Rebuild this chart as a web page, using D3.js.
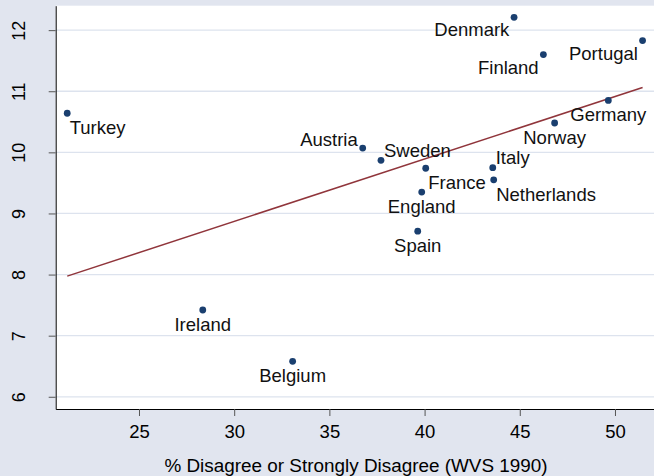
<!DOCTYPE html>
<html>
<head>
<meta charset="utf-8">
<script src="https://cdn.jsdelivr.net/npm/d3@7"></script>
<style>
  body { margin: 0; background: #e1e5ef; }
  svg { display: block; font-family: "Liberation Sans", Arial, Helvetica, sans-serif; }
</style>
</head>
<body>
<script>
"use strict";

/* Data */
var countries = ["Turkey", "Ireland", "Belgium", "Austria", "Sweden", "Spain", "England",
	"France", "Italy", "Netherlands", "Denmark", "Finland", "Norway", "Germany", "Portugal"];
var pctDisagree = [21.23, 28.35, 33.07, 36.75, 37.71, 39.64, 39.85,
	40.06, 43.58, 43.63, 44.70, 46.24, 46.83, 49.65, 51.45];
var yValue = [10.64, 7.42, 6.58, 10.07, 9.87, 8.71, 9.35,
	9.74, 9.75, 9.55, 12.21, 11.60, 10.48, 10.85, 11.83];
var labelClock = [4, 6, 6, 10, 2, 6, 6, 4, 2, 4, 7, 7, 6, 6, 7];	// stata style mlabpos
var xTicks = [25, 30, 35, 40, 45, 50];
var yTicks = [6, 7, 8, 9, 10, 11, 12];
var xTitle = "% Disagree or Strongly Disagree (WVS 1990)";

var width = 654, height = 476;
var navy = "#1a3f6f", maroon = "#90353b", gridColor = "#dde3ee";

// label offsets per clock position
var clockOffsets = {
	2: {anchor: "start", dx: 3, dy: -3.5},
	4: {anchor: "start", dx: 2.5, dy: 21},
	6: {anchor: "middle", dx: 0, dy: 20.6},
	7: {anchor: "end", dx: -4.7, dy: 19},
	10: {anchor: "end", dx: -5, dy: -2}
};

var points = countries.map(function(c, i) {
	return {name: c, x: pctDisagree[i], y: yValue[i], pos: labelClock[i]};
});

var svg = d3.select("body").append("svg")
	.attr("width", width)
	.attr("height", height);

svg.append("rect")
	.attr("width", width).attr("height", height)
	.attr("fill", "#e1e5ef");

// plot region (right edge runs off the picture)
var plot = {left: 55.7, top: 5.7, bottom: 409, right: width};

var x = d3.scaleLinear().domain([20.625, 52.05]).range([plot.left, plot.right]);
var y = d3.scaleLinear().domain([5.8, 12.4]).range([plot.bottom, plot.top]);

svg.append("rect")
	.attr("x", plot.left).attr("y", plot.top)
	.attr("width", plot.right - plot.left).attr("height", plot.bottom - plot.top)
	.attr("fill", "#ffffff");

// gridlines
svg.append("g").selectAll("line")
	.data(yTicks)
	.enter().append("line")
	.attr("x1", plot.left).attr("x2", plot.right)
	.attr("y1", function(d) { return y(d); })
	.attr("y2", function(d) { return y(d); })
	.attr("stroke", gridColor)
	.attr("stroke-width", 1.3);

// linear fit
var mx = d3.mean(pctDisagree), my = d3.mean(yValue);
var sxy = d3.sum(points, function(d) { return (d.x - mx) * (d.y - my); });
var sxx = d3.sum(points, function(d) { return (d.x - mx) * (d.x - mx); });
var slope = sxy / sxx, intercept = my - slope * mx;
var xExt = d3.extent(pctDisagree);

svg.append("line")
	.attr("x1", x(xExt[0])).attr("y1", y(intercept + slope * xExt[0]))
	.attr("x2", x(xExt[1])).attr("y2", y(intercept + slope * xExt[1]))
	.attr("stroke", maroon)
	.attr("stroke-width", 1.5);

// markers
svg.append("g").selectAll("circle")
	.data(points)
	.enter().append("circle")
	.attr("cx", function(d) { return x(d.x); })
	.attr("cy", function(d) { return y(d.y); })
	.attr("r", 3.4)
	.attr("fill", navy);

// marker labels
svg.append("g").selectAll("text")
	.data(points)
	.enter().append("text")
	.attr("x", function(d) { return x(d.x) + clockOffsets[d.pos].dx; })
	.attr("y", function(d) { return y(d.y) + clockOffsets[d.pos].dy; })
	.attr("text-anchor", function(d) { return clockOffsets[d.pos].anchor; })
	.style("font-size", "18.5px")
	.attr("fill", "#111")
	.text(function(d) { return d.name; });

// x axis
var xAxis = svg.append("g")
	.attr("transform", "translate(0," + plot.bottom + ")")
	.call(d3.axisBottom(x).tickValues(xTicks).tickFormat(d3.format("d"))
		.tickSize(7).tickPadding(9.2).tickSizeOuter(0));
xAxis.select(".domain").attr("stroke", "#000");
xAxis.selectAll(".tick line").attr("stroke", "#555");
xAxis.selectAll(".tick text")
	.style("font-size", "18.5px")
	.attr("fill", "#000");

// y axis, labels turned like stata
var yAxis = svg.append("g")
	.attr("transform", "translate(" + plot.left + ",0)")
	.call(d3.axisLeft(y).tickValues(yTicks).tickFormat(d3.format("d"))
		.tickSize(7).tickSizeOuter(0));
yAxis.select(".domain").attr("stroke", "#000");
yAxis.selectAll(".tick line").attr("stroke", "#555");
yAxis.selectAll(".tick text")
	.attr("x", null).attr("dy", null)
	.attr("transform", "translate(" + (25 - plot.left) + ",0) rotate(-90)")
	.attr("text-anchor", "middle")
	.style("font-size", "18px")
	.attr("fill", "#000");

// axis title
svg.append("text")
	.attr("x", 356)
	.attr("y", 472)
	.attr("text-anchor", "middle")
	.style("font-size", "18.9px")
	.attr("fill", "#000")
	.text(xTitle);
</script>
</body>
</html>
